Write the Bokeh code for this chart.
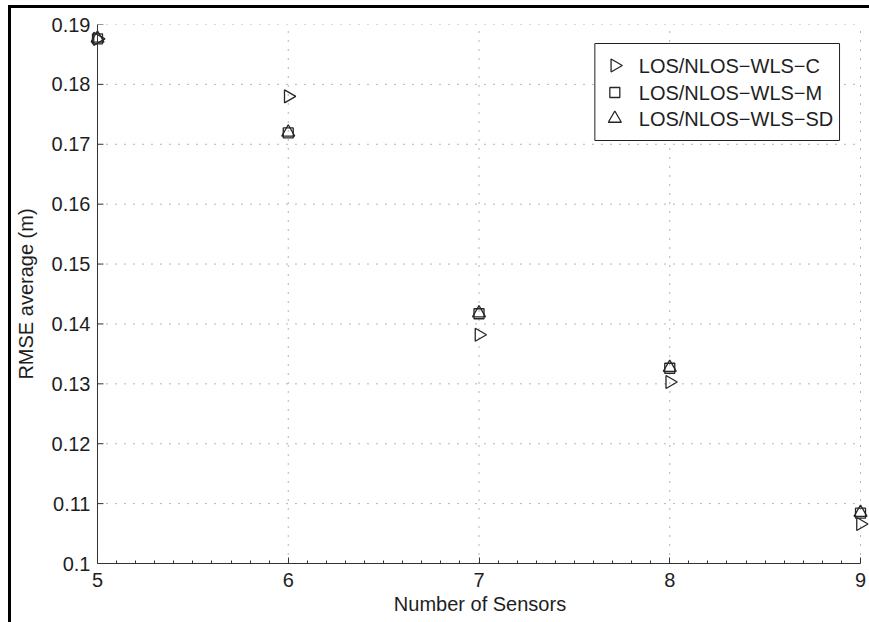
import numpy as np
from bokeh.plotting import figure
from bokeh.models import FixedTicker, Range1d, Span, ColumnDataSource
from bokeh.core.properties import value
from bokeh.layouts import column
from bokeh.embed import file_html
from bokeh.resources import INLINE

# RMSE averages per number of sensors, one list per estimator
sensors = [5, 6, 7, 8, 9]
rmse_c = [0.1876, 0.1780, 0.1382, 0.1303, 0.1066]
rmse_m = [0.1876, 0.1719, 0.1417, 0.1326, 0.1084]
rmse_sd = [0.1877, 0.1720, 0.1418, 0.1327, 0.1085]
series_names = ["LOS/NLOS\u2212WLS\u2212C", "LOS/NLOS\u2212WLS\u2212M", "LOS/NLOS\u2212WLS\u2212SD"]

x_ticks = [5, 6, 7, 8, 9]
x_tick_labels = ["5", "6", "7", "8", "9"]
y_ticks = [0.10, 0.11, 0.12, 0.13, 0.14, 0.15, 0.16, 0.17, 0.18, 0.19]
y_tick_labels = ["0.1", "0.11", "0.12", "0.13", "0.14", "0.15", "0.16", "0.17", "0.18", "0.19"]

X_MIN, X_MAX = x_ticks[0], x_ticks[-1]
Y_MIN, Y_MAX = y_ticks[0], y_ticks[-1]

FONT = "Liberation Sans"
FS = "20px"
INK = "#1e1e1e"
MARK = "#262626"
AXIS = "#333333"

# page / frame geometry in pixels
ORIGIN_X, ORIGIN_Y = 11, 8            # where the figure starts inside the bordered box
FIG_W, FIG_H = 858, 614
FRAME_L, FRAME_R, FRAME_T, FRAME_B = 89, 869, 24, 563
AXES_PX = 764.0                        # pixels spanned by X_MIN..X_MAX
AXES_L = 96                            # pixel column of X_MIN

frame_w = FRAME_R - FRAME_L
frame_h = FRAME_B - FRAME_T
upp = (X_MAX - X_MIN) / AXES_PX        # x units per pixel
pad_left = (AXES_L - FRAME_L) * upp
pad_right = (frame_w - AXES_PX - (AXES_L - FRAME_L)) * upp

p = figure(
    width=FIG_W, height=FIG_H,
    x_range=Range1d(X_MIN - pad_left, X_MAX + pad_right),
    y_range=Range1d(Y_MIN, Y_MAX),
    output_backend="svg", toolbar_location=None,
    min_border_left=FRAME_L - ORIGIN_X,
    min_border_right=ORIGIN_X + FIG_W - FRAME_R,
    min_border_top=FRAME_T - ORIGIN_Y,
    min_border_bottom=ORIGIN_Y + FIG_H - FRAME_B,
)
# pixel-space ranges used to place the legend inside the frame
p.extra_x_ranges = {"px": Range1d(0, frame_w)}
p.extra_y_ranges = {"px": Range1d(0, frame_h)}

p.outline_line_color = None
p.background_fill_color = "white"
p.border_fill_color = "white"
p.xgrid.visible = False
p.ygrid.visible = False


def minor_positions(ticks, parts):
    out = []
    for a, b in zip(ticks[:-1], ticks[1:]):
        out.extend(np.linspace(a, b, parts + 1)[1:-1].tolist())
    return out


# x axis: solid line from X_MIN to X_MAX, ticks pointing inward
xa = p.xaxis[0]
xa.ticker = FixedTicker(ticks=x_ticks, minor_ticks=minor_positions(x_ticks, 10))
xa.major_label_overrides = {t: l for t, l in zip(x_ticks, x_tick_labels)}
xa.bounds = (X_MIN, X_MAX)
xa.axis_line_color = AXIS
xa.major_tick_line_color = AXIS
xa.minor_tick_line_color = AXIS
xa.major_tick_in = 6
xa.major_tick_out = 0
xa.minor_tick_in = 3
xa.minor_tick_out = 0
xa.major_label_standoff = 9
xa.axis_label_standoff = 3

# y axis: labels from the axis model, line and ticks drawn at X_MIN
ya = p.yaxis[0]
ya.ticker = FixedTicker(ticks=y_ticks, minor_ticks=[])
ya.major_label_overrides = {t: l for t, l in zip(y_ticks, y_tick_labels)}
ya.axis_line_color = None
ya.major_tick_line_color = None
ya.minor_tick_line_color = None
ya.major_tick_in = 0
ya.major_tick_out = 0
ya.major_label_standoff = 0
ya.axis_label_standoff = 12

xa.axis_label = "Number of Sensors"
ya.axis_label = "RMSE average (m)"
for ax in (xa, ya):
    ax.major_label_text_font = FONT
    ax.major_label_text_font_size = FS
    ax.major_label_text_color = INK
    ax.axis_label_text_font = FONT
    ax.axis_label_text_font_size = FS
    ax.axis_label_text_font_style = "normal"
    ax.axis_label_text_color = INK

# dotted grid at the major ticks, limited to the axes box
grid_kw = dict(line_color="#6a6a6a", line_width=1, line_dash="1 8")
p.segment(x0=x_ticks[1:], x1=x_ticks[1:], y0=[Y_MIN] * (len(x_ticks) - 1),
          y1=[Y_MAX] * (len(x_ticks) - 1), **grid_kw)
p.segment(x0=[X_MIN] * (len(y_ticks) - 1), x1=[X_MAX] * (len(y_ticks) - 1),
          y0=y_ticks[1:], y1=y_ticks[1:], **grid_kw)

# y axis line and inward ticks
p.add_layout(Span(location=X_MIN, dimension="height", line_color=AXIS, line_width=1))
p.segment(x0=[X_MIN] * len(y_ticks), x1=[X_MIN + 6 * upp] * len(y_ticks),
          y0=y_ticks, y1=y_ticks, line_color=AXIS, line_width=1)

# scatter series
src = ColumnDataSource(dict(x=sensors, c=rmse_c, m=rmse_m, sd=rmse_sd))
mk_c = dict(marker="triangle", angle=-np.pi / 2, size=13)
mk_m = dict(marker="square", size=10)
mk_sd = dict(marker="triangle", size=13)
style = dict(fill_color=None, line_color=MARK, line_width=1.3)
p.scatter("x", "c", source=src, **mk_c, **style)
p.scatter("x", "m", source=src, **mk_m, **style)
p.scatter("x", "sd", source=src, **mk_sd, **style)

# legend box (pixel coordinates inside the frame, origin bottom-left)
def fx(px):
    return px - FRAME_L


def fy(py):
    return FRAME_B - py


LEG_L, LEG_R, LEG_T, LEG_B = 594, 839, 43, 140
LEG_MARK_X, LEG_TEXT_X = 614, 638
LEG_ROWS = [65, 92, 118]

px_kw = dict(x_range_name="px", y_range_name="px")
p.quad(left=[fx(LEG_L)], right=[fx(LEG_R)], top=[fy(LEG_T)], bottom=[fy(LEG_B)],
       fill_color="white", line_color="#222222", line_width=1, **px_kw)
for row, mk in zip(LEG_ROWS, [mk_c, mk_m, mk_sd]):
    p.scatter(x=[fx(LEG_MARK_X)], y=[fy(row)], **mk, **style, **px_kw)
p.text(x=[fx(LEG_TEXT_X)] * 3, y=[fy(r) for r in LEG_ROWS], text=series_names,
       text_font=value(FONT), text_font_size=value(FS), text_color=INK,
       text_align="left", text_baseline="middle", **px_kw)

page = column(p, styles={
    "border-left": "3px solid #000",
    "border-top": "3px solid #000",
    "margin-left": "8px",
    "margin-top": "5px",
})

open("out.html", "w").write(file_html(page, INLINE))
